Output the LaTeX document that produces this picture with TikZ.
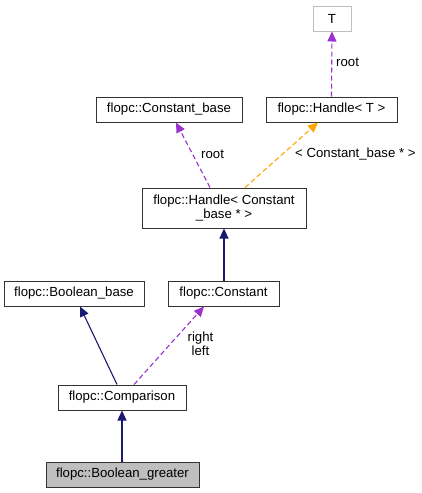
\documentclass[tikz,border=0pt]{standalone}
\usepackage{fontspec}
\setmainfont{Liberation Sans}
\usetikzlibrary{arrows.meta}
\definecolor{inhcol}{HTML}{191970}
\definecolor{usecol}{HTML}{9A32CD}
\definecolor{tplcol}{HTML}{FFA500}
\tikzset{
  cls/.style={draw=black!80, line width=1pt, fill=white, minimum height=25pt, inner sep=0pt, align=center},
  tplbox/.style={cls, draw=black!25},
  cur/.style={cls, fill=black!25},
  inherit/.style={draw=inhcol, line width=1.1pt, -{Triangle[length=10pt,width=9pt]}},
  uses/.style={draw=usecol, line width=1.1pt, dash pattern=on 5pt off 3pt, -{Triangle[length=10pt,width=9pt]}},
  tpl/.style={uses, draw=tplcol},
  lbl/.style={inner sep=0pt, align=center}
}
\begin{document}
\begin{tikzpicture}[x=1pt, y=-1pt, font=\fontsize{13.2}{14.5}\selectfont]
    \useasboundingbox (0,0) rectangle (421,493);
    % classes
    \node[tplbox, minimum width=38pt] (T) at (332,18.5) {T};
    \node[cls, minimum width=146pt] (cbase) at (169,109.5) {flopc::Constant\_base};
    \node[cls, minimum width=131pt] (handleT) at (331.5,109.5) {flopc::Handle< T >};
    \node[cls, minimum width=164pt, minimum height=40pt] (handleCB) at (224,208) {flopc::Handle< Constant\\\_base * >};
    \node[cls, minimum width=140pt] (boolbase) at (74,293.5) {flopc::Boolean\_base};
    \node[cls, minimum width=111pt] (constant) at (223.5,293.5) {flopc::Constant};
    \node[cls, minimum width=128pt] (comparison) at (122,397.5) {flopc::Comparison};
    \node[cur, minimum width=153pt] (boolgreater) at (122.5,474.5) {flopc::Boolean\_greater};
    % relations
    \draw[uses] (handleT.north) -- (T.south);
    \draw[uses] ([xshift=-14pt]handleCB.north) -- ([xshift=7pt]cbase.south);
    \draw[tpl] ([xshift=21pt]handleCB.north) -- ([xshift=-13.5pt]handleT.south);
    \draw[inherit] (constant.north -| handleCB.south) -- (handleCB.south);
    \draw[inherit] ([xshift=-5pt]comparison.north) -- ([xshift=6pt]boolbase.south);
    \draw[uses] ([xshift=12pt]comparison.north) -- ([xshift=-19.5pt]constant.south);
    \draw[inherit] (boolgreater.north -| comparison.south) -- (comparison.south);
    % labels
    \node[lbl, anchor=west] (lroot1) at (336,62) {root};
    \node[lbl, anchor=west] (lroot2) at (201,154) {root};
    \node[lbl, anchor=west] (ltpl) at (295,154) {< Constant\_base * >};
    \node[lbl] (lrl) at (200.5,344) {right\\left};
\end{tikzpicture}
\end{document}
